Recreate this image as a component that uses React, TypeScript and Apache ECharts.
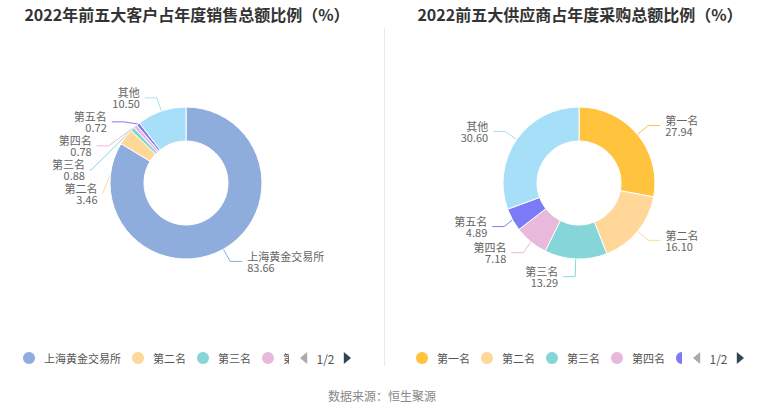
import React, { useEffect, useRef } from "react";
import * as echarts from "echarts";

const leftTitle = "2022年前五大客户占年度销售总额比例（%）";
const rightTitle = "2022前五大供应商占年度采购总额比例（%）";
const leftNames = ["上海黄金交易所", "第二名", "第三名", "第四名", "第五名", "其他"];
const leftValues = [83.66, 3.46, 0.88, 0.78, 0.72, 10.5];
const leftColors = ["#8EACDC", "#FFD899", "#86D5D8", "#E8B9DA", "#7B7BF7", "#A8DFF8"];
const rightNames = ["第一名", "第二名", "第三名", "第四名", "第五名", "其他"];
const rightValues = [27.94, 16.1, 13.29, 7.18, 4.89, 30.6];
const rightColors = ["#FFC33D", "#FFD899", "#86D5D8", "#E8B9DA", "#7B7BF7", "#A8DFF8"];
const sourceText = "数据来源：恒生聚源";

const FONT = "'Noto Sans CJK SC', sans-serif";

function pieSeries(name: string, names: string[], values: number[], colors: string[], cx: number) {
  return {
    type: "pie",
    name,
    center: [cx, 183],
    radius: [42, 76],
    startAngle: 90,
    clockwise: true,
    avoidLabelOverlap: true,
    itemStyle: { borderColor: "#fff", borderWidth: 1 },
    label: {
      show: true,
      formatter: (p: any) => `${p.name}\n${Number(p.value).toFixed(2)}`,
      fontSize: 11,
      lineHeight: 11,
      color: "#666",
      fontFamily: FONT,
    },
    labelLine: { show: true, length: 14, length2: 12, lineStyle: { width: 1 } },
    data: names.map((n, i) => ({ name: n, value: values[i], itemStyle: { color: colors[i] } })),
  };
}

function legendCfg(names: string[], left: number) {
  return {
    type: "scroll",
    data: names,
    left,
    width: 328,
    top: 347,
    icon: "circle",
    itemWidth: 12,
    itemHeight: 12,
    itemGap: 11,
    itemStyle: { borderWidth: 0 },
    textStyle: { fontSize: 11, color: "#555", fontFamily: FONT, padding: [0, 0, 0, 4] },
    pageIconSize: 12,
    pageIconColor: "#2f4554",
    pageIconInactiveColor: "#aaa",
    pageTextStyle: { color: "#555", fontSize: 12, fontFamily: FONT },
    pageButtonItemGap: 4,
  };
}

export default function App() {
  const ref = useRef<HTMLDivElement>(null);
  useEffect(() => {
    if (!ref.current) return;
    const chart = echarts.init(ref.current, undefined, { renderer: "svg" });
    chart.setOption({
      animation: false,
      backgroundColor: "#fff",
      textStyle: { fontFamily: FONT },
      title: [
        {
          text: leftTitle,
          left: 182,
          textAlign: "center",
          top: 1,
          textStyle: { fontSize: 16, fontWeight: "bold", color: "#333", fontFamily: FONT },
        },
        {
          text: rightTitle,
          left: 575,
          textAlign: "center",
          top: 1,
          textStyle: { fontSize: 16, fontWeight: "bold", color: "#333", fontFamily: FONT },
        },
      ],
      legend: [legendCfg(leftNames, 18), legendCfg(rightNames, 411)],
      series: [
        pieSeries("客户", leftNames, leftValues, leftColors, 186),
        pieSeries("供应商", rightNames, rightValues, rightColors, 579),
      ],
      graphic: [
        {
          type: "line",
          shape: { x1: 384.5, y1: 28, x2: 384.5, y2: 366 },
          style: { stroke: "#e8e8e8", lineWidth: 1 },
        },
        {
          type: "text",
          x: 382,
          y: 395,
          style: {
            text: sourceText,
            fontSize: 12,
            fill: "#888",
            align: "center",
            verticalAlign: "middle",
            fontFamily: FONT,
          },
        },
      ],
    });
    return () => chart.dispose();
  }, []);
  return (
    <div
      ref={ref}
      style={{ position: "fixed", left: 0, top: 0, width: 765, height: 413, background: "#fff" }}
    />
  );
}
